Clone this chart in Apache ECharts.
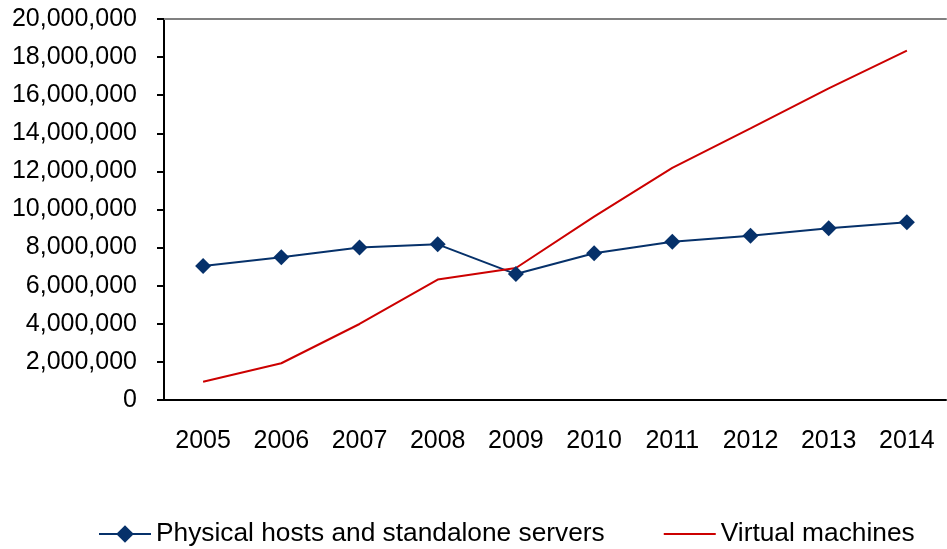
<!DOCTYPE html>
<html>
<head>
<meta charset="utf-8">
<style>
  html, body { margin: 0; padding: 0; background: #fff; }
  #chart { width: 947px; height: 549px; }
</style>
<script src="https://cdn.jsdelivr.net/npm/echarts@6/dist/echarts.min.js"></script>
</head>
<body>
<div id="chart"></div>
<script>
var years = ['2005', '2006', '2007', '2008', '2009', '2010', '2011', '2012', '2013', '2014']
var physicalHosts = [7040000, 7490000, 8000000, 8170000, 6610000, 7700000, 8310000, 8620000, 9010000, 9330000]
var virtualMachines = [960000, 1930000, 3990000, 6320000, 6930000, 9630000, 12190000, 14260000, 16360000, 18340000]
var seriesNames = ['Physical hosts and standalone servers', 'Virtual machines']

var chart = echarts.init(document.getElementById('chart'))
var font = 'Liberation Sans, Arial, sans-serif'

chart.setOption({
  animation: false,
  grid: {
    left: 164,
    right: 1,
    top: 19,
    bottom: 149
  },
  legend: {
    data: [
      { name: seriesNames[0] },
      // 红线图例只画一条线
      { name: seriesNames[1], icon: 'path://M0,0 L52,0 L52,2 L0,2 Z' }
    ],
    left: 98,
    top: 521,
    padding: 0,
    itemWidth: 52,
    itemHeight: 22,
    itemGap: 59,
    textStyle: { fontFamily: font, fontSize: 26.3, color: '#000' }
  },
  xAxis: [
    {
      type: 'category',
      data: years,
      boundaryGap: true,
      axisLine: { lineStyle: { color: '#000', width: 2 } },
      axisTick: { length: 8, lineStyle: { color: '#000', width: 2 } },
      axisLabel: { margin: 29, fontFamily: font, fontSize: 25, color: '#000' }
    },
    {
      // 顶部灰色边框
      type: 'category',
      position: 'top',
      data: years,
      axisLine: { lineStyle: { color: '#808080', width: 2 } },
      axisTick: { show: false },
      axisLabel: { show: false }
    }
  ],
  yAxis: {
    type: 'value',
    min: 0,
    max: 20000000,
    interval: 2000000,
    axisLine: { show: true, lineStyle: { color: '#000', width: 2 } },
    axisTick: { show: true, length: 7, lineStyle: { color: '#000', width: 2 } },
    splitLine: { show: false },
    axisLabel: {
      margin: 27,
      fontFamily: font,
      fontSize: 25,
      color: '#000',
      formatter: function (v) { return v.toLocaleString('en-US') }
    }
  },
  series: [
    {
      name: seriesNames[0],
      type: 'line',
      data: physicalHosts,
      symbol: 'diamond',
      symbolSize: 16,
      itemStyle: { color: '#06316a' },
      lineStyle: { color: '#06316a', width: 2 }
    },
    {
      name: seriesNames[1],
      type: 'line',
      data: virtualMachines,
      symbol: 'none',
      itemStyle: { color: '#cc0000' },
      lineStyle: { color: '#cc0000', width: 2 }
    }
  ]
})
</script>
</body>
</html>
